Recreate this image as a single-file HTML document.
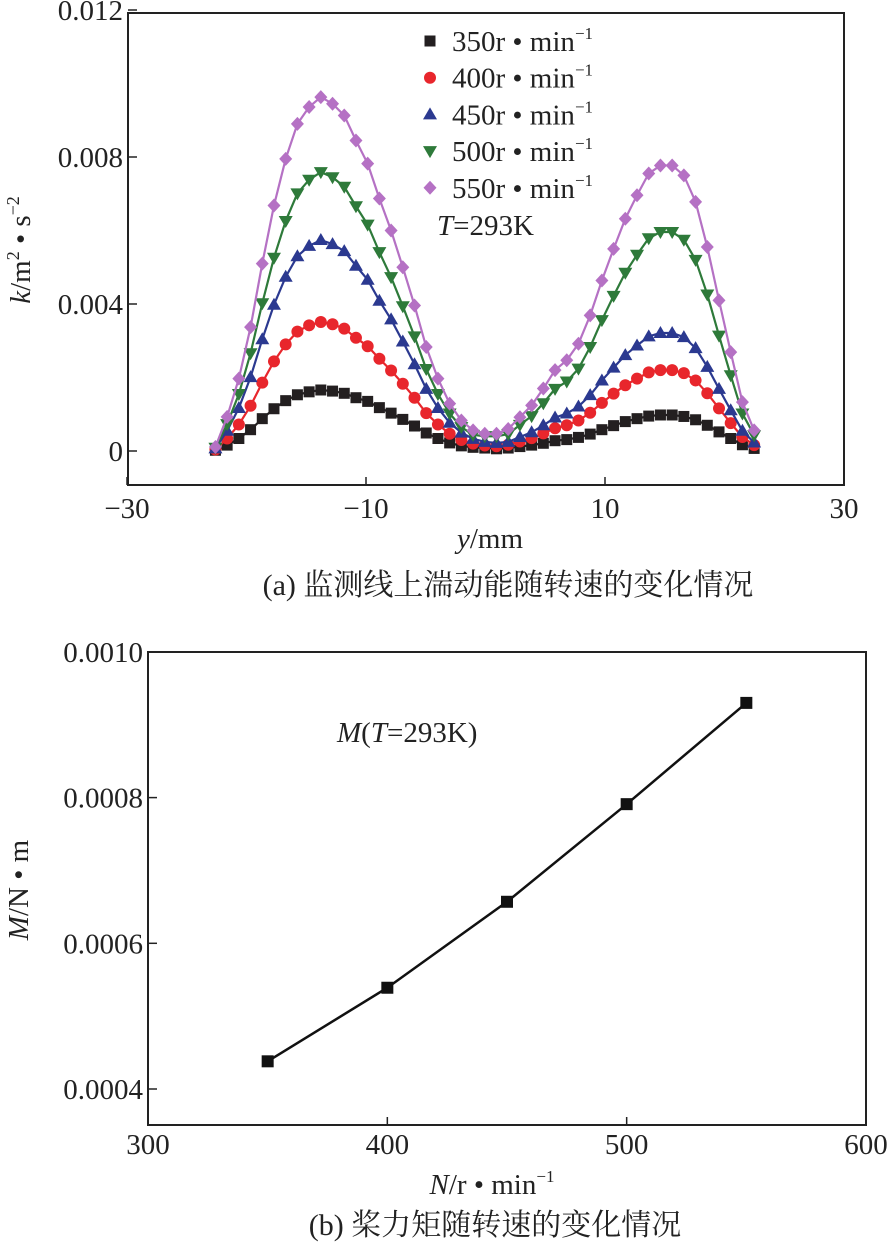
<!DOCTYPE html>
<html><head><meta charset="utf-8">
<style>
html,body{margin:0;padding:0;background:#fff;}
svg, svg text{font-family:"Liberation Serif","Times New Roman","Noto Serif CJK SC",serif;}
</style></head>
<body>
<svg id="fig" width="887" height="1245" viewBox="0 0 887 1245" xmlns="http://www.w3.org/2000/svg" font-family="Liberation Serif, Noto Serif CJK SC, serif">
<g id="chartA"></g>
<g id="chartB"></g>
</svg>
<script>
// ---- Chart (a) data ----
const posA = [-22.6,-21.62,-20.64,-19.66,-18.68,-17.7,-16.72,-15.74,-14.76,-13.78,-12.8,-11.82,-10.84,-9.86,-8.88,-7.9,-6.92,-5.94,-4.96,-3.98,-3.0,-2.02,-1.04,-0.06,0.92,1.9,2.88,3.86,4.84,5.82,6.8,7.78,8.76,9.74,10.72,11.7,12.68,13.66,14.64,15.62,16.6,17.58,18.56,19.54,20.52,21.5,22.48];
const s350 = [0.00002,0.00016,0.00034,0.00058,0.00088,0.00115,0.00137,0.00153,0.00161,0.00166,0.00163,0.00157,0.00145,0.00135,0.00118,0.00103,0.00086,0.00068,0.00049,0.00034,0.00022,0.00014,0.0001,0.00008,0.00006,0.00008,0.00012,0.00016,0.00021,0.00028,0.00031,0.00037,0.00046,0.00058,0.00069,0.0008,0.00088,0.00095,0.00098,0.00098,0.00094,0.00085,0.0007,0.00052,0.00034,0.00017,0.00007];
const s400 = [0.00004,0.00034,0.00072,0.00123,0.00186,0.00244,0.0029,0.00325,0.00342,0.00351,0.00345,0.00333,0.00308,0.00285,0.00251,0.00219,0.00183,0.00145,0.00103,0.00072,0.00047,0.0003,0.0002,0.00015,0.00013,0.00017,0.00026,0.00035,0.00048,0.00062,0.0007,0.00083,0.00104,0.00131,0.00156,0.00179,0.00197,0.00214,0.0022,0.0022,0.00212,0.00192,0.00157,0.00116,0.00076,0.00038,0.00016];
const s450 = [0.00007,0.00055,0.00117,0.00201,0.00304,0.00398,0.00474,0.0053,0.00558,0.00574,0.00563,0.00544,0.00504,0.00466,0.00409,0.00358,0.00298,0.00236,0.00169,0.00117,0.00077,0.0005,0.00033,0.00025,0.00022,0.00025,0.00038,0.00051,0.0007,0.00091,0.00102,0.00121,0.00152,0.00192,0.00227,0.00261,0.00287,0.00312,0.00321,0.00321,0.0031,0.0028,0.00229,0.00169,0.00111,0.00055,0.00023];
const s500 = [0.00009,0.00073,0.00155,0.00266,0.00402,0.00526,0.00626,0.00701,0.00738,0.00759,0.00745,0.00719,0.00666,0.00616,0.00541,0.00473,0.00394,0.00312,0.00223,0.00155,0.00102,0.00065,0.00044,0.0004,0.0004,0.00046,0.00071,0.00095,0.0013,0.00169,0.00189,0.00224,0.00283,0.00356,0.00422,0.00485,0.00534,0.00579,0.00596,0.00596,0.00575,0.0052,0.00426,0.00314,0.00206,0.00102,0.00043];
const s550 = [0.00011,0.00093,0.00197,0.00337,0.0051,0.00668,0.00795,0.0089,0.00936,0.00963,0.00945,0.00913,0.00845,0.00782,0.00687,0.006,0.005,0.00396,0.00283,0.00197,0.00129,0.00083,0.00056,0.00047,0.00047,0.0006,0.00092,0.00124,0.0017,0.0022,0.00247,0.00292,0.00369,0.00464,0.0055,0.00632,0.00696,0.00755,0.00777,0.00777,0.0075,0.00678,0.00555,0.0041,0.00269,0.00133,0.00056];
const seriesNamesA = ["350","400","450","500","550"];
const xTicksA = [-30,-10,10,30];
const yTicksA = [0,0.004,0.008,0.012];
const yTickLabelsA = ["0","0.004","0.008","0.012"];
// ---- Chart (b) data ----
const speedsB = [350,400,450,500,550];
const torqueB = [0.000438,0.000539,0.000657,0.000791,0.00093];
const xTicksB = [300,400,500,600];
const yTicksB = [0.0004,0.0006,0.0008,0.0010];
const yTickLabelsB = ["0.0004","0.0006","0.0008","0.0010"];

const NS="http://www.w3.org/2000/svg";
function mk(tag,attrs,parent,txt){const e=document.createElementNS(NS,tag);for(const k in attrs)e.setAttribute(k,attrs[k]);if(txt!==undefined)e.textContent=txt;parent.appendChild(e);return e;}
const FS=29, CS=30;

// Chart A
const A=document.getElementById('chartA');
const xA=v=>127+(v+30)*(844-127)/60;
const yA=v=>451-v*(147/0.004);
let r=mk('rect',{x:128,y:13,width:716,height:472,fill:'none',stroke:'#222','stroke-width':2},A);


xTicksA.forEach(t=>{
  const l=mk('line',{x1:xA(t),x2:xA(t),y1:485,y2:477,stroke:'#222','stroke-width':1.5},A);
  
  
  const tx=mk('text',{x:xA(t),y:518,'font-size':FS,'text-anchor':'middle',fill:'#222'},A,t<0?'\u2212'+Math.abs(t):String(t));
  
  
});
yTicksA.forEach((t,i)=>{
  const l=mk('line',{x1:128,x2:137,y1:yA(t),y2:yA(t),stroke:'#222','stroke-width':1.5},A);
  
  
  const tx=mk('text',{x:123,y:yA(t)+10,'font-size':FS,'text-anchor':'end',fill:'#222'},A,yTickLabelsA[i]);
  
  
});
const colorsA=['#231f20','#e8262c','#2b3990','#2e7a3a','#b571c4'];
const markersA=['square','circle','tri-up','tri-down','diamond'];
const dataA=[s350,s400,s450,s500,s550];
function marker(g,type,cx,cy,c){
  let e;
  if(type==='square') e=mk('rect',{x:cx-5.5,y:cy-5.5,width:11,height:11,fill:c},g);
  else if(type==='circle') e=mk('circle',{cx:cx,cy:cy,r:6,fill:c},g);
  else if(type==='tri-up') e=mk('polygon',{points:`${cx},${cy-7} ${cx-7},${cy+5} ${cx+7},${cy+5}`,fill:c},g);
  else if(type==='tri-down') e=mk('polygon',{points:`${cx},${cy+7} ${cx-7},${cy-5} ${cx+7},${cy-5}`,fill:c},g);
  else e=mk('polygon',{points:`${cx},${cy-7} ${cx+6.5},${cy} ${cx},${cy+7} ${cx-6.5},${cy}`,fill:c},g);
  return e;
}
dataA.forEach((arr,si)=>{
  const g=mk('g',{},A);
  
  
  const pl=mk('polyline',{points:arr.map((v,i)=>xA(posA[i])+','+yA(v)).join(' '),fill:'none',stroke:colorsA[si],'stroke-width':2.2},g);
  
  
  arr.forEach((v,i)=>{
    const m=marker(g,markersA[si],xA(posA[i]),yA(v),colorsA[si]);
    
    
  });
});
// legend
seriesNamesA.forEach((n,i)=>{
  const g=mk('g',{},A);
  
  
  const cy=41+i*36.7;
  marker(g,markersA[i],430,cy,colorsA[i]);
  const t=mk('text',{x:452,y:cy+10,'font-size':FS,fill:'#222'},g);
  mk('tspan',{},t,n+'r \u2022 min');
  mk('tspan',{dy:-12,'font-size':17},t,'\u22121');
});
let tl=mk('text',{x:437,y:235,'font-size':FS,fill:'#222'},A);


mk('tspan',{'font-style':'italic'},tl,'T');
mk('tspan',{},tl,'=293K');
let yl=mk('text',{transform:'translate(30,250) rotate(-90)','font-size':FS,'text-anchor':'middle',fill:'#222'},A);


mk('tspan',{'font-style':'italic'},yl,'k');
mk('tspan',{},yl,'/m');
mk('tspan',{dy:-11,'font-size':18},yl,'2');
mk('tspan',{dy:11},yl,' \u2022 s');
mk('tspan',{dy:-11,'font-size':18},yl,'\u22122');
let xl=mk('text',{x:490,y:548,'font-size':FS,'text-anchor':'middle',fill:'#222'},A);


mk('tspan',{'font-style':'italic'},xl,'y');
mk('tspan',{},xl,'/mm');
let ca=mk('text',{x:508,y:595,'font-size':CS,'text-anchor':'middle',fill:'#222'},A,'(a) 监测线上湍动能随转速的变化情况');



// Chart B
const B=document.getElementById('chartB');
const xB=v=>148+(v-300)*(866-148)/300;
const yB=v=>1089-(v-0.0004)*(145.7/0.0002);
let rb=mk('rect',{x:148,y:652,width:718,height:473,fill:'none',stroke:'#222','stroke-width':2},B);


xTicksB.forEach(t=>{
  const l=mk('line',{x1:xB(t),x2:xB(t),y1:1125,y2:1117,stroke:'#222','stroke-width':1.5},B);
  
  
  const tx=mk('text',{x:xB(t),y:1154,'font-size':FS,'text-anchor':'middle',fill:'#222'},B,String(t));
  
  
});
yTicksB.forEach((t,i)=>{
  const l=mk('line',{x1:148,x2:157,y1:yB(t),y2:yB(t),stroke:'#222','stroke-width':1.5},B);
  
  
  const tx=mk('text',{x:143,y:yB(t)+10,'font-size':FS,'text-anchor':'end',fill:'#222'},B,yTickLabelsB[i]);
  
  
});
const gb=mk('g',{},B);


const plb=mk('polyline',{points:speedsB.map((v,i)=>xB(v)+','+yB(torqueB[i])).join(' '),fill:'none',stroke:'#111','stroke-width':2.5},gb);


speedsB.forEach((v,i)=>{
  const m=mk('rect',{x:xB(v)-6,y:yB(torqueB[i])-6,width:12,height:12,fill:'#111'},gb);
  
  
});
let tb=mk('text',{x:337,y:742,'font-size':FS,fill:'#222'},B);


mk('tspan',{'font-style':'italic'},tb,'M');
mk('tspan',{},tb,'(');
mk('tspan',{'font-style':'italic'},tb,'T');
mk('tspan',{},tb,'=293K)');
let ylb=mk('text',{transform:'translate(28,890) rotate(-90)','font-size':FS,'text-anchor':'middle',fill:'#222'},B);


mk('tspan',{'font-style':'italic'},ylb,'M');
mk('tspan',{},ylb,'/N \u2022 m');
let xlb=mk('text',{x:492,y:1194,'font-size':FS,'text-anchor':'middle',fill:'#222'},B);


mk('tspan',{'font-style':'italic'},xlb,'N');
mk('tspan',{},xlb,'/r \u2022 min');
mk('tspan',{dy:-12,'font-size':17},xlb,'\u22121');
let cb=mk('text',{x:495,y:1235,'font-size':CS,'text-anchor':'middle',fill:'#222'},B,'(b) 桨力矩随转速的变化情况');


</script>
</body></html>
